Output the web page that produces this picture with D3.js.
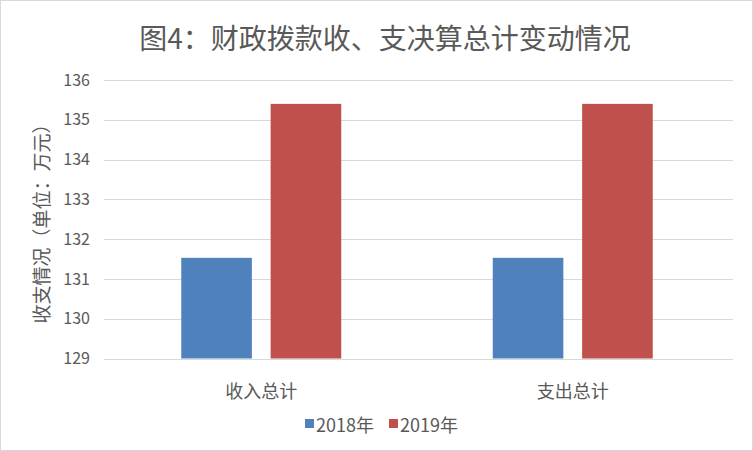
<!DOCTYPE html>
<html><head><meta charset="utf-8">
<script src="https://cdn.jsdelivr.net/npm/d3@7/dist/d3.min.js"></script>
<style>body{margin:0;background:#fff}svg{display:block}</style>
</head><body>
<svg id="c" width="753" height="451"></svg>
<script>
const categories = ["收入总计", "支出总计"];
const seriesNames = ["2018年", "2019年"];
const values2018 = [131.53, 131.53];
const values2019 = [135.40, 135.40];
const yTicks = [129, 130, 131, 132, 133, 134, 135, 136];
const colors = ["#4F81BD", "#C0504D"];
const title = "图4：财政拨款收、支决算总计变动情况";
const yTitle = "收支情况（单位：万元）";

const font = "'Noto Sans CJK SC', 'Noto Sans', sans-serif";
const svg = d3.select("#c");
svg.append("rect").attr("x",0.5).attr("y",0.5).attr("width",752).attr("height",450)
  .attr("fill","#fff").attr("stroke","#d9d9d9");

const pLeft = 104, pRight = 733, pTop = 80, pBottom = 358.5;
const y = d3.scaleLinear().domain([129,136]).range([pBottom, pTop]);
const x0 = d3.scaleBand().domain(categories).range([105.5, 728.5]).paddingInner(0).paddingOuter(0);
const x1 = d3.scaleBand().domain(seriesNames).range([0, 160]).paddingInner(0.21).paddingOuter(0);

// gridlines
svg.append("g").selectAll("line").data(yTicks).join("line")
  .attr("x1", pLeft).attr("x2", pRight)
  .attr("y1", d => Math.round(y(d))+0.5).attr("y2", d => Math.round(y(d))+0.5)
  .attr("stroke", "#d9d9d9").attr("stroke-width", 1);

// y axis labels
const yAxis = d3.axisLeft(y).tickValues(yTicks).tickSize(0).tickPadding(0).tickFormat(d3.format("d"));
const ga = svg.append("g").attr("transform", `translate(90,0)`).call(yAxis);
ga.select(".domain").remove();
ga.selectAll("text").attr("font-family", font).attr("font-size", 16).attr("fill", "#595959");

// bars
const data = categories.map((c,i) => ({c, vals:[values2018[i], values2019[i]]}));
const groups = svg.append("g").selectAll("g").data(data).join("g")
  .attr("transform", d => `translate(${x0(d.c) + x0.bandwidth()/2 - 80},0)`);
groups.selectAll("rect").data(d => d.vals.map((v,j) => ({s: seriesNames[j], v, j}))).join("rect")
  .attr("x", d => x1(d.s)).attr("width", x1.bandwidth())
  .attr("y", d => y(d.v)).attr("height", d => y(129) - y(d.v))
  .attr("fill", d => colors[d.j]);

// category labels
svg.append("g").selectAll("text").data(categories).join("text")
  .attr("x", d => x0(d) + x0.bandwidth()/2).attr("y", 390)
  .attr("text-anchor", "middle").attr("dominant-baseline", "central")
  .attr("font-family", font).attr("font-size", 18).attr("fill", "#595959")
  .text(d => d);

// title
svg.append("text").attr("x", 385).attr("y", 37)
  .attr("text-anchor", "middle").attr("dominant-baseline", "central")
  .attr("font-family", font).attr("font-size", 28).attr("fill", "#595959")
  .text(title);

// y title
svg.append("text").attr("transform", "translate(40,219) rotate(-90)")
  .attr("text-anchor", "middle").attr("dominant-baseline", "central")
  .attr("font-family", font).attr("font-size", 19).attr("fill", "#595959")
  .text(yTitle);

// legend
const legX = [305, 389];
const lg = svg.append("g").selectAll("g").data(seriesNames).join("g")
  .attr("transform", (d,i) => `translate(${legX[i]},419)`);
lg.append("rect").attr("width", 9).attr("height", 9).attr("fill", (d,i) => colors[i]);
lg.append("text").attr("x", 11).attr("y", 5).attr("dominant-baseline", "central")
  .attr("font-family", font).attr("font-size", 18).attr("fill", "#595959")
  .text(d => d);
</script>
</body></html>
